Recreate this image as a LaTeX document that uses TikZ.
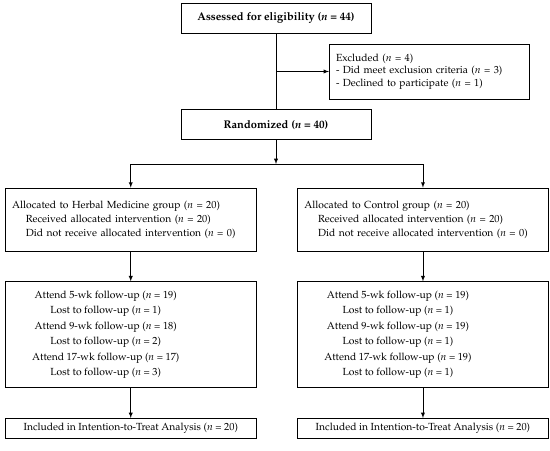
\documentclass[tikz,border=0pt]{standalone}
\usepackage[T1]{fontenc}
\usepackage{mathpazo}
\usetikzlibrary{positioning}

\begin{document}
\begin{tikzpicture}[x=0.03cm, y=-0.03cm, node distance=0.9cm and 1.23cm, >=latex, line width=0.6pt]
\tikzstyle{box}=[draw, inner xsep=0.2cm, minimum height=0.9cm, font=\fontsize{8.8}{11.9}\selectfont]
\tikzstyle{group}=[box, text width=7.115cm, minimum height=1.89cm, align=left]
\tikzstyle{visits}=[box, minimum width=7.515cm, minimum height=3.18cm]
\tikzstyle{visitstext}=[align=center, font=\fontsize{8.8}{13.1}\selectfont]
\tikzstyle{final}=[box, minimum width=7.515cm, minimum height=0.6cm]
\useasboundingbox (0,0) rectangle (550,451);
% enrolment
\node[box, minimum width=5.7cm, font=\fontsize{9.5}{12}\selectfont\bfseries] (assess) at (276,18) {Assessed for eligibility (\textit{n} = 44)};
\node[box, minimum width=5.7cm, font=\fontsize{9.5}{12}\selectfont\bfseries, below=2.28cm of assess] (rand) {Randomized (\textit{n} = 40)};
\node[box, anchor=west, text width=5.6cm, minimum height=1.65cm, align=left, font=\fontsize{8.8}{10.5}\selectfont] (excl) at (329,71.5) {Excluded (\textit{n} = 4)\\ - Did meet exclusion criteria (\textit{n} = 3)\\ - Declined to participate (\textit{n} = 1)};
% allocation
\node[group] (allocL) at (130.75,219.5) {Allocated to Herbal Medicine group (\textit{n} = 20)\\\hspace*{0.41cm}Received allocated intervention (\textit{n} = 20)\\\hspace*{0.41cm}Did not receive allocated intervention (\textit{n} = 0)};
\node[group, right=of allocL] (allocR) {Allocated to Control group (\textit{n} = 20)\\\hspace*{0.41cm}Received allocated intervention (\textit{n} = 20)\\\hspace*{0.41cm}Did not receive allocated intervention (\textit{n} = 0)};
% follow-up
\node[visits, below=of allocL] (fuL) {};
\node[visits, below=of allocR] (fuR) {};
\node[visitstext] (fuLtxt) at ([xshift=-0.75cm]fuL.center) {Attend 5-wk follow-up (\textit{n} = 19)\\Lost to follow-up (\textit{n} = 1)\\Attend 9-wk follow-up (\textit{n} = 18)\\Lost to follow-up (\textit{n} = 2)\\Attend 17-wk follow-up (\textit{n} = 17)\\Lost to follow-up (\textit{n} = 3)};
\node[visitstext] (fuRtxt) at ([xshift=-0.75cm]fuR.center) {Attend 5-wk follow-up (\textit{n} = 19)\\Lost to follow-up (\textit{n} = 1)\\Attend 9-wk follow-up (\textit{n} = 19)\\Lost to follow-up (\textit{n} = 1)\\Attend 17-wk follow-up (\textit{n} = 19)\\Lost to follow-up (\textit{n} = 1)};
% analysis
\node[final, below=of fuL] (itL) {Included in Intention-to-Treat Analysis (\textit{n} = 20)};
\node[final, below=of fuR] (itR) {Included in Intention-to-Treat Analysis (\textit{n} = 20)};
% connectors
\coordinate (exclpt) at (assess |- excl);
\coordinate[below=0.72cm of rand] (split);
\draw (assess) -- (rand);
\draw[->] (exclpt) -- (excl.west);
\draw[->] (rand) -- (split);
\draw[->] (split) -| (allocL);
\draw[->] (split) -| (allocR);
\draw[->] (allocL) -- (fuL);
\draw[->] (allocR) -- (fuR);
\draw[->] (fuL) -- (itL);
\draw[->] (fuR) -- (itR);
\end{tikzpicture}
\end{document}
